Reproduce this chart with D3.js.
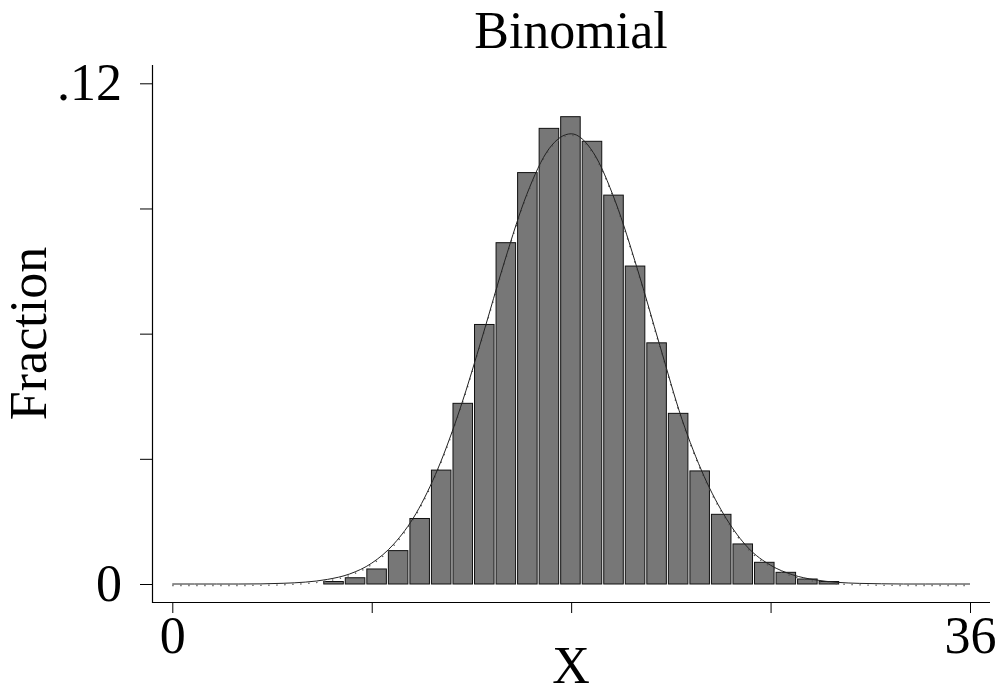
<!DOCTYPE html>
<html>
<head>
<meta charset="utf-8">
<title>Binomial</title>
<script src="https://cdn.jsdelivr.net/npm/d3@7"></script>
<style>
    html, body { margin: 0; padding: 0; background: #fff; }
    svg { display: block; }
    text { font-family: "Liberation Serif", "Times New Roman", serif; fill: #000; }
</style>
</head>
<body>
<svg id="chart" width="998" height="694"></svg>
<script>
/*jslint browser: true*/
/*global d3*/

// fraction of the draws that fall in each histogram bin, left to right
var binFractions = [
    0.0006, 0.0015, 0.0036, 0.0080, 0.0157, 0.0273, 0.0433, 0.0622,
    0.0818, 0.0986, 0.1092, 0.1120, 0.1061, 0.0932, 0.0762, 0.0578,
    0.0409, 0.0271, 0.0167, 0.0096, 0.0052, 0.0028, 0.0012, 0.0006
];

// left edge of the first bin and the bin width, in units of x
var binStart = 6.79;
var binWidth = 0.972;

// the overlaid density at whole values of x
var curveX = [
    0, 1, 2, 3, 4, 5, 6, 7, 8, 9, 10, 11, 12, 13, 14, 15, 16, 17, 18,
    19, 20, 21, 22, 23, 24, 25, 26, 27, 28, 29, 30, 31, 32, 33, 34, 35, 36
];
var curveFraction = [
    0, 0, 0, 0, 0.00003, 0.00017, 0.00045, 0.0011, 0.0024, 0.0050,
    0.0096, 0.0169, 0.0278, 0.0422, 0.0594, 0.0774, 0.0934, 0.1043, 0.1079,
    0.1034, 0.0916, 0.0753, 0.0572, 0.0395, 0.0258, 0.0157, 0.0086, 0.0045,
    0.0022, 0.0010, 0.0004, 0.00015, 0.00005, 0, 0, 0, 0
];

// ticks; only the ends get a label
var xTicks = [0, 9, 18, 27, 36];
var xTickLabels = ['0', '', '', '', '36'];
var yTicks = [0, 0.03, 0.06, 0.09, 0.12];
var yTickLabels = ['0', '', '', '', '.12'];

(function () {
    "use strict";

    var svg = d3.select('#chart'),
        fontSize = 52,

        // the frame sits a little outside the data area, stata style
        frameLeft = 152.5,
        frameBottom = 602.5,
        frameTop = 65,
        frameRight = 990,

        x = d3.scaleLinear().domain([0, 36]).range([172.3, 970]),
        y = d3.scaleLinear().domain([0, 0.12]).range([584, 83.3]),

        bins = binFractions.map(function (f, i) {
            return {
                lo: binStart + i * binWidth,
                hi: binStart + (i + 1) * binWidth,
                fraction: f
            };
        }),

        line = d3.line()
            .x(function (d) { return x(d[0]); })
            .y(function (d) { return y(d[1]); })
            .curve(d3.curveMonotoneX),

        points = d3.zip(curveX, curveFraction);

    // bars
    svg.append('g')
        .attr('class', 'bars')
        .selectAll('rect')
        .data(bins)
        .enter()
        .append('rect')
        .attr('x', function (d) { return x(d.lo) + 1; })
        .attr('width', function (d) { return x(d.hi) - x(d.lo) - 2; })
        .attr('y', function (d) { return y(d.fraction); })
        .attr('height', function (d) { return y(0) - y(d.fraction); })
        .attr('fill', '#777')
        .attr('stroke', '#111')
        .attr('stroke-width', 1);

    // density line, with the little point markers hanging under it
    svg.append('path')
        .datum(points)
        .attr('d', line)
        .attr('transform', 'translate(0,1.5)')
        .attr('fill', 'none')
        .attr('stroke', '#555')
        .attr('stroke-width', 1.3)
        .attr('stroke-dasharray', '1.3 6.7');

    svg.append('path')
        .datum(points)
        .attr('d', line)
        .attr('fill', 'none')
        .attr('stroke', '#222')
        .attr('stroke-width', 1);

    // axes
    svg.append('g')
        .attr('class', 'y axis')
        .attr('transform', 'translate(' + frameLeft + ',0)')
        .call(d3.axisLeft(y)
            .tickValues(yTicks)
            .tickSize(12.5)
            .tickPadding(18)
            .tickFormat(function (d, i) { return yTickLabels[i]; }))
        .attr('font-size', fontSize)
        .call(function (g) { g.select('.domain').remove(); });

    svg.append('g')
        .attr('class', 'x axis')
        .attr('transform', 'translate(0,' + frameBottom + ')')
        .call(d3.axisBottom(x)
            .tickValues(xTicks)
            .tickSize(10.5)
            .tickPadding(3)
            .tickFormat(function (d, i) { return xTickLabels[i]; }))
        .attr('font-size', fontSize)
        .call(function (g) { g.select('.domain').remove(); });

    svg.append('path')
        .attr('d', 'M' + frameLeft + ',' + frameTop +
            'V' + frameBottom + 'H' + frameRight)
        .attr('fill', 'none')
        .attr('stroke', '#000')
        .attr('stroke-width', 1.2);

    // titles
    svg.append('text')
        .attr('x', 571)
        .attr('y', 48)
        .attr('text-anchor', 'middle')
        .attr('font-size', fontSize)
        .text('Binomial');

    svg.append('text')
        .attr('x', 571)
        .attr('y', 683)
        .attr('text-anchor', 'middle')
        .attr('font-size', fontSize)
        .text('X');

    svg.append('text')
        .attr('transform', 'translate(46,333.5)rotate(-90)')
        .attr('text-anchor', 'middle')
        .attr('font-size', fontSize)
        .text('Fraction');
}());
</script>
</body>
</html>
